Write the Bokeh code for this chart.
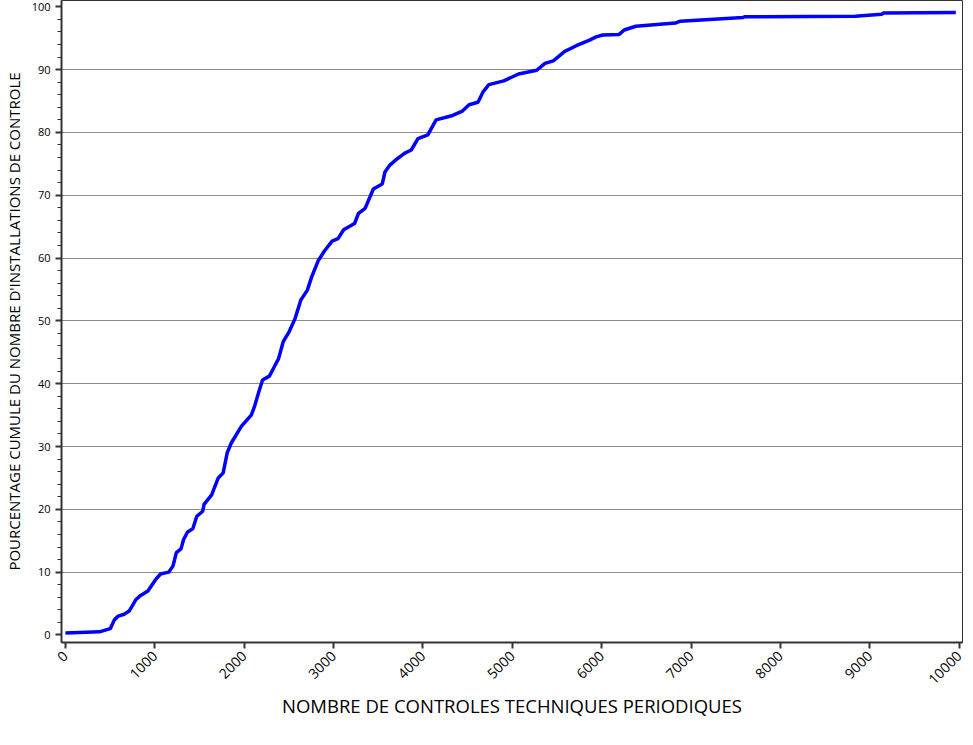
import math
from bokeh.plotting import figure
from bokeh.models import Range1d, FixedTicker
from bokeh.embed import file_html
from bokeh.resources import INLINE

# cumulative curve
controles = [0, 380, 502, 547, 591, 657, 713, 787, 842, 923, 1008, 1064, 1156, 1204,
             1241, 1293, 1322, 1366, 1425, 1470, 1536, 1551, 1636, 1710, 1765, 1810,
             1857, 1968, 2079, 2116, 2160, 2205, 2282, 2337, 2385, 2437, 2504, 2570,
             2633, 2707, 2755, 2829, 2902, 2984, 3050, 3113, 3235, 3279, 3353, 3445,
             3545, 3575, 3630, 3704, 3797, 3870, 3944, 4055, 4147, 4332, 4442, 4516,
             4616, 4675, 4738, 4904, 5070, 5273, 5365, 5458, 5587, 5716, 5864, 5938,
             6012, 6196, 6252, 6381, 6824, 6879, 7581, 7600, 8837, 9132, 9150, 9962]
pourcentage = [0.3, 0.5, 1.0, 2.4, 3.0, 3.3, 3.8, 5.6, 6.3, 7.0, 8.8, 9.7, 10.0, 11.0,
               13.1, 13.7, 15.2, 16.4, 16.9, 18.9, 19.7, 20.8, 22.3, 25.0, 25.8, 29.0,
               30.6, 33.2, 35.0, 36.4, 38.5, 40.6, 41.2, 42.7, 44.0, 46.7, 48.3, 50.4,
               53.3, 54.9, 57.0, 59.6, 61.2, 62.7, 63.1, 64.5, 65.5, 67.1, 67.9, 71.0,
               71.8, 73.7, 74.8, 75.7, 76.7, 77.2, 79.0, 79.6, 82.0, 82.7, 83.4, 84.4,
               84.8, 86.5, 87.6, 88.2, 89.3, 89.9, 91.0, 91.4, 92.9, 93.8, 94.7, 95.2,
               95.5, 95.6, 96.3, 96.9, 97.4, 97.7, 98.3, 98.4, 98.5, 98.8, 99.0, 99.1]

x_ticks = [0, 1000, 2000, 3000, 4000, 5000, 6000, 7000, 8000, 9000, 10000]
y_ticks = [0, 10, 20, 30, 40, 50, 60, 70, 80, 90, 100]

p = figure(width=965, height=737, output_backend="svg", toolbar_location=None,
           x_range=Range1d(-44, 10037), y_range=Range1d(-1.2, 101.0))
p.min_border_left = 50
p.min_border_right = 3
p.min_border_top = 0
p.min_border_bottom = 95

p.line(controles, pourcentage, line_color="#0000FF", line_width=3.5)

p.outline_line_color = "#333333"
p.outline_line_width = 1

p.xgrid.visible = False
p.ygrid.ticker = FixedTicker(ticks=y_ticks[1:-1])
p.ygrid.grid_line_color = "#8c8c8c"
p.ygrid.grid_line_width = 1

p.xaxis.ticker = FixedTicker(ticks=x_ticks)
p.yaxis.ticker = FixedTicker(ticks=y_ticks,
                             minor_ticks=[v for v in range(0, 101, 2)])

for ax in (p.xaxis[0], p.yaxis[0]):
    ax.axis_line_color = "#333333"
    ax.axis_line_width = 2
    ax.major_tick_line_color = "#333333"
    ax.major_tick_line_width = 2
    ax.major_tick_in = 0
    ax.major_tick_out = 6
    ax.minor_tick_line_color = "#333333"
    ax.minor_tick_in = 0
    ax.minor_tick_out = 4
    ax.major_label_text_font = "Open Sans"
    ax.major_label_text_color = "#000000"
    ax.axis_label_text_font = "Open Sans"
    ax.axis_label_text_font_style = "normal"
    ax.axis_label_text_color = "#000000"

p.xaxis.major_label_text_font_size = "14px"
p.yaxis.major_label_text_font_size = "11px"
p.xaxis.minor_tick_line_color = None
p.xaxis.major_label_orientation = math.pi / 4
p.xaxis.axis_label = "NOMBRE DE CONTROLES TECHNIQUES PERIODIQUES"
p.xaxis.axis_label_text_font_size = "18.5px"
p.xaxis.axis_label_standoff = 1

p.yaxis.axis_label = "POURCENTAGE CUMULE DU NOMBRE D'INSTALLATIONS DE CONTROLE"
p.yaxis.axis_label_text_font_size = "15px"
p.yaxis.axis_label_standoff = 5

open("out.html", "w").write(file_html(p, INLINE))
